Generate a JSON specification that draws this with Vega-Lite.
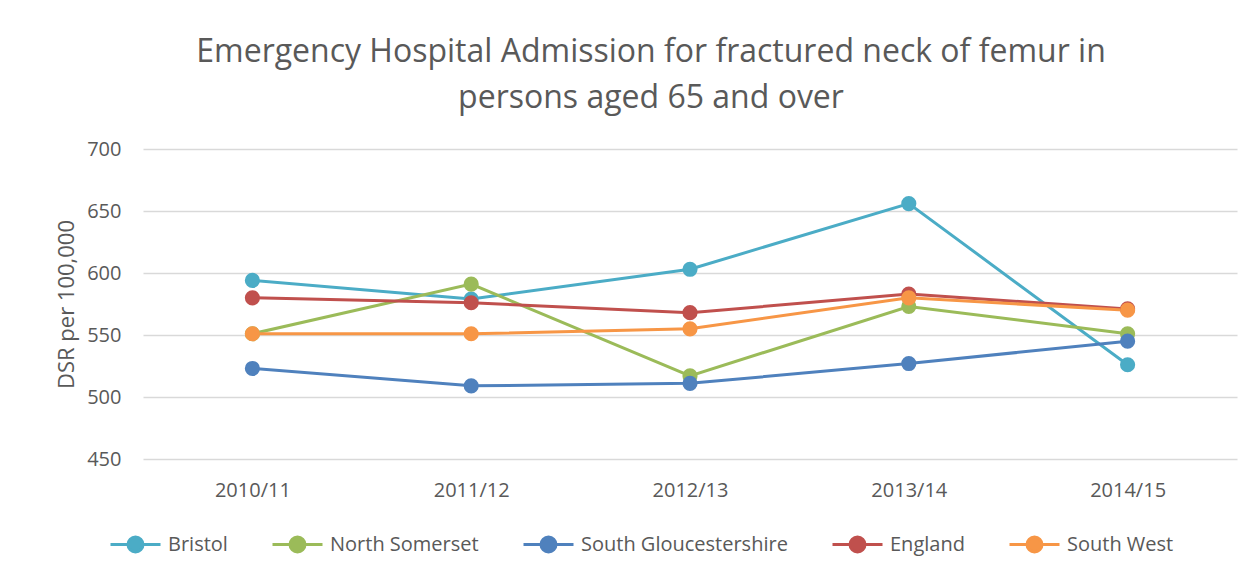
{
  "$schema": "https://vega.github.io/schema/vega-lite/v6.json",
  "autosize": "none",
  "width": 1094,
  "height": 310,
  "padding": {"left": 143, "top": 149, "right": 18, "bottom": 114},
  "background": "white",
  "config": {
    "font": "Open Sans",
    "view": {"stroke": null},
    "axis": {"labelColor": "#595959", "titleColor": "#595959", "labelFont": "Open Sans", "titleFont": "Open Sans"}
  },
  "title": {
    "text": ["Emergency Hospital Admission for fractured neck of femur in", "persons aged 65 and over"],
    "anchor": "middle",
    "frame": "group",
    "dx": -39,
    "fontSize": 32,
    "fontWeight": "normal",
    "color": "#595959",
    "font": "Open Sans",
    "lineHeight": 46,
    "baseline": "bottom",
    "offset": -8
  },
  "data": {
    "values": [
      {"year": "2010/11", "area": "Bristol", "dsr": 594},
      {"year": "2011/12", "area": "Bristol", "dsr": 579},
      {"year": "2012/13", "area": "Bristol", "dsr": 603},
      {"year": "2013/14", "area": "Bristol", "dsr": 656},
      {"year": "2014/15", "area": "Bristol", "dsr": 526},
      {"year": "2010/11", "area": "North Somerset", "dsr": 551},
      {"year": "2011/12", "area": "North Somerset", "dsr": 591},
      {"year": "2012/13", "area": "North Somerset", "dsr": 517},
      {"year": "2013/14", "area": "North Somerset", "dsr": 573},
      {"year": "2014/15", "area": "North Somerset", "dsr": 551},
      {"year": "2010/11", "area": "South Gloucestershire", "dsr": 523},
      {"year": "2011/12", "area": "South Gloucestershire", "dsr": 509},
      {"year": "2012/13", "area": "South Gloucestershire", "dsr": 511},
      {"year": "2013/14", "area": "South Gloucestershire", "dsr": 527},
      {"year": "2014/15", "area": "South Gloucestershire", "dsr": 545},
      {"year": "2010/11", "area": "England", "dsr": 580},
      {"year": "2011/12", "area": "England", "dsr": 576},
      {"year": "2012/13", "area": "England", "dsr": 568},
      {"year": "2013/14", "area": "England", "dsr": 583},
      {"year": "2014/15", "area": "England", "dsr": 571},
      {"year": "2010/11", "area": "South West", "dsr": 551},
      {"year": "2011/12", "area": "South West", "dsr": 551},
      {"year": "2012/13", "area": "South West", "dsr": 555},
      {"year": "2013/14", "area": "South West", "dsr": 580},
      {"year": "2014/15", "area": "South West", "dsr": 570}
    ]
  },
  "mark": {"type": "line", "strokeWidth": 3, "point": {"filled": true, "size": 230, "opacity": 1}},
  "encoding": {
    "x": {
      "field": "year", "type": "ordinal", "sort": null,
      "scale": {"type": "point", "padding": 0.5},
      "axis": {"title": null, "labelAngle": 0, "ticks": false, "domain": false, "grid": false, "labelFontSize": 20, "labelPadding": 21}
    },
    "y": {
      "field": "dsr", "type": "quantitative",
      "scale": {"domain": [450, 700], "nice": false, "zero": false},
      "axis": {"title": "DSR per 100,000", "values": [450, 500, 550, 600, 650, 700], "ticks": false, "domain": false, "gridColor": "#d9d9d9", "gridWidth": 1.5, "labelFontSize": 20, "labelPadding": 22, "titleFontSize": 22, "titleFontWeight": "normal", "titlePadding": 8}
    },
    "color": {
      "field": "area", "type": "nominal",
      "sort": ["Bristol", "North Somerset", "South Gloucestershire", "England", "South West"],
      "scale": {"domain": ["Bristol", "North Somerset", "South Gloucestershire", "England", "South West"], "range": ["#4bacc6", "#9bbb59", "#4f81bd", "#c0504d", "#f79646"]},
      "legend": {
        "title": null,
        "orient": "none",
        "direction": "horizontal",
        "legendX": -34,
        "legendY": 369,
        "symbolType": "M-1,0H1M-0.3,0A0.3,0.3 0 1,1 0.3,0A0.3,0.3 0 1,1 -0.3,0Z",
        "symbolSize": 2500,
        "symbolStrokeWidth": 3,
        "labelFontSize": 20,
        "labelLimit": 400,
        "labelColor": "#595959",
        "labelFont": "Open Sans",
        "columnPadding": 38,
        "labelOffset": 6,
        "encode": {"symbols": {"update": {"fill": {"scale": "color", "field": "value"}, "stroke": {"scale": "color", "field": "value"}, "opacity": {"value": 1}}}}
      }
    }
  }
}
